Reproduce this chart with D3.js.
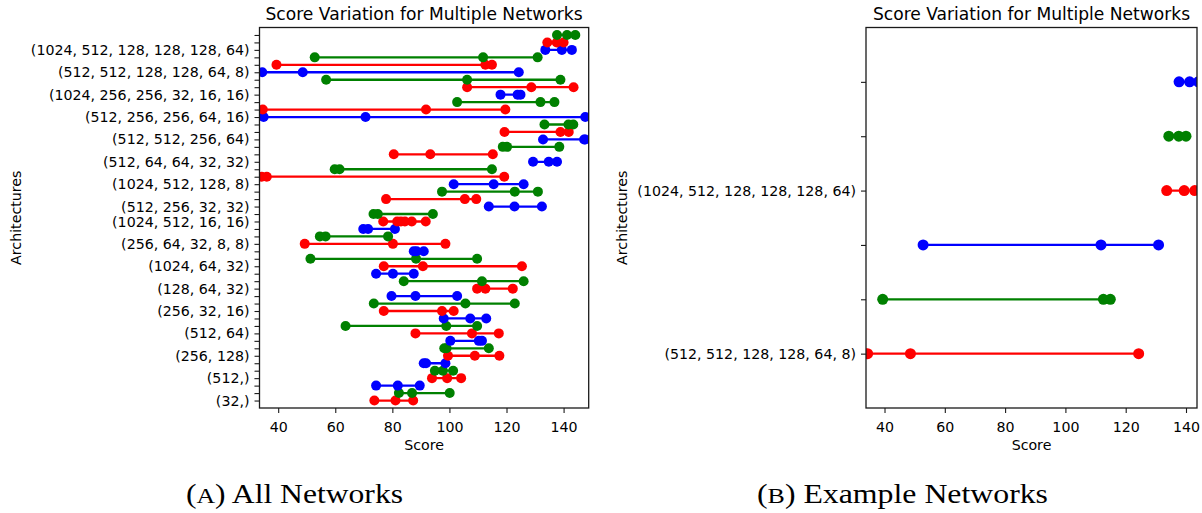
<!DOCTYPE html>
<html>
<head>
<meta charset="utf-8">
<script src="https://cdn.jsdelivr.net/npm/d3@7"></script>
<style>
  html, body { margin: 0; padding: 0; background: #fff; }
  svg { display: block; }
  text { font-family: "DejaVu Sans", sans-serif; fill: #000; }
</style>
</head>
<body>
<svg id="fig" width="1202" height="513"></svg>
<script>
// Architectures shown on the y axis and the row (from the bottom) each label sits on
const architectures = [
  "(32,)", "(512,)", "(256, 128)", "(512, 64)", "(256, 32, 16)", "(128, 64, 32)",
  "(1024, 64, 32)", "(256, 64, 32, 8, 8)", "(1024, 512, 16, 16)", "(512, 256, 32, 32)",
  "(1024, 512, 128, 8)", "(512, 64, 64, 32, 32)", "(512, 512, 256, 64)",
  "(512, 256, 256, 64, 16)", "(1024, 256, 256, 32, 16, 16)",
  "(512, 512, 128, 128, 64, 8)", "(1024, 512, 128, 128, 128, 64)"
];
const labelRows = [0, 3, 6, 9, 12, 15, 18, 21, 24, 26, 29, 32, 35, 38, 41, 44, 47];

// Scores of each run, one row per run, listed from the bottom row upward
const scoreRuns = [
  [73.7, 81.1, 87.3],
  [82.3, 86.9, 100.1],
  [74.3, 81.9, 89.6],
  [93.9, 99.2, 104.1],
  [94.9, 97.7, 101.3],
  [91.0, 91.8, 98.6],
  [99.5, 108.9, 117.5],
  [98.2, 99.0, 113.8],
  [100.3, 110.3, 111.4],
  [88.1, 107.9, 117.3],
  [63.6, 98.9, 109.7],
  [98.0, 107.3, 112.9],
  [77.0, 97.4, 101.5],
  [73.5, 105.6, 122.9],
  [79.7, 88.1, 102.7],
  [109.7, 112.6, 122.2],
  [84.0, 111.4, 126.0],
  [74.3, 80.2, 87.5],
  [77.0, 90.7, 125.4],
  [51.3, 88.3, 109.7],
  [87.5, 88.5, 91.0],
  [49.3, 80.2, 98.6],
  [54.6, 56.6, 78.5],
  [69.8, 71.5, 80.9],
  [76.8, 81.7, 83.0, 84.4, 86.8, 91.7],
  [73.4, 74.9, 94.2],
  [113.8, 122.8, 132.4],
  [77.8, 105.4, 109.4],
  [97.4, 122.9, 131.0],
  [101.5, 115.5, 126.0],
  [34.2, 36.0, 119.2],
  [59.8, 61.5, 114.9],
  [129.3, 134.8, 137.7],
  [80.5, 93.3, 115.2],
  [118.7, 120.2, 138.5],
  [132.8, 147.2, 147.6],
  [119.3, 138.9, 141.8],
  [133.3, 141.7, 143.4],
  [34.9, 70.6, 147.6],
  [34.6, 91.8, 119.6],
  [102.7, 131.9, 136.8],
  [117.9, 123.9, 124.9],
  [106.2, 128.7, 143.5],
  [56.8, 106.2, 138.9],
  [34.4, 48.6, 124.3],
  [39.4, 112.6, 114.9],
  [52.8, 111.8, 130.9],
  [133.6, 139.4, 142.9],
  [134.3, 137.6, 140.0],
  [137.7, 141.2, 144.1]
];

// Architectures picked out for the second panel
const exampleArchitectures = ["(512, 512, 128, 128, 64, 8)", "(1024, 512, 128, 128, 128, 64)"];
const runsPerArchitecture = 3;

const colorCycle = ["#ff0000", "#008000", "#0000ff"];
const scoreTicks = [40, 60, 80, 100, 120, 140];

const svg = d3.select("#fig");

function drawPanel(opts) {
  const { left, right, top, bottom, xDomain, rows, labels, title, caption, captionLetter, dotR, clipId } = opts;
  const g = svg.append("g");

  const x = d3.scaleLinear().domain(xDomain).range([left, right]);
  const y = d3.scaleLinear().domain([-1, rows.length]).range([bottom, top]);

  g.append("clipPath").attr("id", clipId)
    .append("rect").attr("x", left).attr("y", top).attr("width", right - left).attr("height", bottom - top);

  const marks = g.append("g").attr("clip-path", `url(#${clipId})`);
  const rowG = marks.selectAll("g.run").data(rows).join("g").attr("class", "run");
  rowG.append("line")
    .attr("x1", d => x(d3.min(d)))
    .attr("x2", d => x(d3.max(d)))
    .attr("y1", (d, i) => y(i))
    .attr("y2", (d, i) => y(i))
    .attr("stroke", (d, i) => colorCycle[i % 3])
    .attr("stroke-width", 2.3);
  rowG.each(function (d, i) {
    d3.select(this).selectAll("circle").data(d).join("circle")
      .attr("cx", v => x(v))
      .attr("cy", y(i))
      .attr("r", dotR)
      .attr("fill", colorCycle[i % 3]);
  });

  // frame
  g.append("rect")
    .attr("x", left).attr("y", top).attr("width", right - left).attr("height", bottom - top)
    .attr("fill", "none").attr("stroke", "#1a1a1a").attr("stroke-width", 1.3);

  // axes
  const labelAt = new Map(labels.map(l => [l.row, l.text]));
  const yAxis = d3.axisLeft(y)
    .tickValues(d3.range(rows.length))
    .tickFormat(i => labelAt.get(i) || "")
    .tickSize(5).tickPadding(5).tickSizeOuter(0);
  const ya = g.append("g").attr("transform", `translate(${left},0)`).call(yAxis);
  const xAxis = d3.axisBottom(x)
    .tickValues(scoreTicks).tickFormat(d3.format("d"))
    .tickSize(5).tickPadding(9).tickSizeOuter(0);
  const xa = g.append("g").attr("transform", `translate(0,${bottom})`).call(xAxis);
  [ya, xa].forEach(a => {
    a.select(".domain").remove();
    a.selectAll(".tick line").attr("stroke", "#1a1a1a").attr("stroke-width", 1.1);
    a.selectAll(".tick text").attr("fill", "#000")
      .style("font-family", '"DejaVu Sans", sans-serif').style("font-size", "14.2px");
  });

  const cx = (left + right) / 2;
  g.append("text").attr("x", cx).attr("y", 20).attr("text-anchor", "middle")
    .style("font-size", "17.1px").text(title);
  g.append("text").attr("x", cx).attr("y", 450).attr("text-anchor", "middle")
    .style("font-size", "14.2px").text("Score");
  g.append("text")
    .attr("transform", `translate(${opts.yLabelX},${(top + bottom) / 2}) rotate(-90)`)
    .attr("text-anchor", "middle").style("font-size", "14.2px").text("Architectures");

  const cap = g.append("text").attr("x", opts.captionX).attr("y", 503)
    .attr("text-anchor", "middle")
    .attr("textLength", opts.captionWidth).attr("lengthAdjust", "spacingAndGlyphs")
    .style("font-family", '"Liberation Serif", serif').style("font-size", "27px");
  cap.append("tspan").text("(");
  cap.append("tspan").style("font-size", "22px").text(captionLetter);
  cap.append("tspan").text(") " + caption);
}

// Panel A: every architecture
drawPanel({
  left: 259.5, right: 588.7, top: 27.5, bottom: 408,
  xDomain: [33.45, 148.8],
  rows: scoreRuns,
  labels: architectures.map((a, k) => ({ row: labelRows[k], text: a })),
  title: "Score Variation for Multiple Networks",
  caption: "All Networks", captionLetter: "A",
  captionX: 294.5, captionWidth: 217,
  yLabelX: 21, dotR: 5, clipId: "clipA"
});

// Panel B: two example architectures
const exampleRows = [];
const exampleLabels = [];
exampleArchitectures.forEach(a => {
  const start = labelRows[architectures.indexOf(a)];
  exampleLabels.push({ row: exampleRows.length, text: a });
  for (let r = 0; r < runsPerArchitecture; r++) exampleRows.push(scoreRuns[start + r]);
});
drawPanel({
  left: 866, right: 1197, top: 27.5, bottom: 408,
  xDomain: [33.86, 143.65],
  rows: exampleRows,
  labels: exampleLabels,
  title: "Score Variation for Multiple Networks",
  caption: "Example Networks", captionLetter: "B",
  captionX: 902.5, captionWidth: 291,
  yLabelX: 627, dotR: 5.5, clipId: "clipB"
});
</script>
</body>
</html>
